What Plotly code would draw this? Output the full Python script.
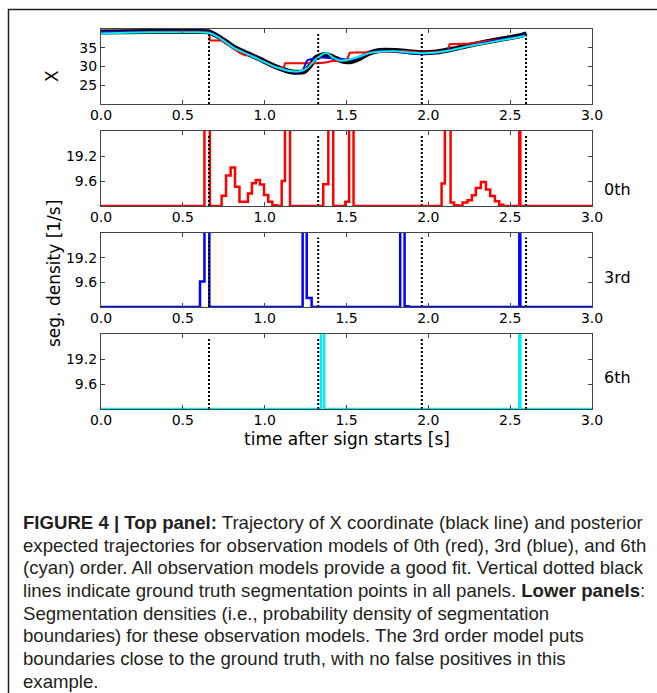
import plotly.graph_objects as go

W, H = 657, 693

# ---------------- data ----------------
truth_t = [0.66, 1.327, 1.96, 2.597]

black_t = [0.0, 0.3, 0.6, 0.66, 0.72, 0.77, 0.82, 0.9, 0.97, 1.07, 1.17, 1.24, 1.28, 1.31, 1.37, 1.42, 1.47,
           1.52, 1.58, 1.64, 1.70, 1.80, 1.88, 1.96, 2.05, 2.15, 2.25, 2.35, 2.45, 2.55, 2.6]
black_x = [39.3, 39.4, 39.4, 39.3, 38.0, 36.5, 35.0, 33.4, 32.0, 29.9, 28.5, 28.6, 30.3, 32.3, 33.3, 32.5, 31.5,
           31.3, 32.2, 33.6, 34.3, 34.3, 34.0, 33.7, 33.9, 34.7, 35.7, 36.6, 37.4, 38.2, 38.8]

red_t = [0.0, 0.3, 0.6, 0.662, 0.665, 0.74, 0.80, 0.85, 0.88, 0.92, 1.0, 1.05, 1.10, 1.115, 1.125, 1.33, 1.39,
         1.40, 1.50, 1.52, 1.55, 1.75, 1.85, 1.96, 2.05, 2.12, 2.13, 2.25, 2.35, 2.45, 2.55, 2.56, 2.6]
red_x = [39.3, 39.4, 39.4, 39.3, 37.0, 37.0, 35.2, 33.6, 33.0, 33.0, 31.2, 30.0, 29.6, 29.6, 30.9, 30.9, 31.2,
         31.4, 31.6, 33.7, 33.8, 33.9, 34.2, 33.7, 34.0, 34.2, 36.0, 36.2, 36.8, 37.3, 37.8, 38.1, 38.2]

blue_t = [0.0, 0.3, 0.6, 0.66, 0.72, 0.77, 0.82, 0.9, 0.97, 1.07, 1.17, 1.23, 1.26, 1.30, 1.35, 1.42, 1.47,
          1.52, 1.58, 1.64, 1.70, 1.80, 1.88, 1.96, 2.05, 2.15, 2.25, 2.35, 2.45, 2.55, 2.6]
blue_x = [39.2, 39.3, 39.3, 39.2, 38.0, 36.4, 34.9, 33.3, 31.9, 29.8, 28.6, 28.9, 31.6, 32.1, 32.4, 32.2, 32.0,
          31.9, 32.5, 33.6, 34.1, 34.1, 33.6, 33.4, 33.8, 34.6, 35.6, 36.5, 37.3, 38.0, 38.6]

cyan_t = [0.0, 0.3, 0.6, 0.66, 0.72, 0.77, 0.82, 0.9, 0.97, 1.07, 1.17, 1.22, 1.26, 1.31, 1.35, 1.38, 1.42,
          1.46, 1.52, 1.58, 1.64, 1.70, 1.80, 1.88, 1.96, 2.05, 2.15, 2.25, 2.35, 2.45, 2.55, 2.6]
cyan_x = [38.9, 39.2, 39.2, 39.0, 37.8, 36.3, 34.8, 33.2, 31.8, 29.8, 28.7, 28.8, 29.6, 31.8, 33.2, 33.6, 32.3,
          31.6, 31.9, 32.7, 33.6, 34.0, 34.1, 33.8, 33.6, 33.8, 34.5, 35.5, 36.3, 37.1, 37.9, 38.3]

# segmentation densities (step edges, value holds until next edge); 60 = beyond the axis top
red_dt = [0.0, 0.632, 0.665, 0.737, 0.764, 0.792, 0.819, 0.846, 0.873, 0.898, 0.922, 0.946, 0.971, 0.996, 1.022,
          1.047, 1.075, 1.104, 1.124, 1.155, 1.358, 1.389, 1.419, 1.493, 1.516, 1.543, 2.081, 2.101, 2.136, 2.157,
          2.183, 2.209, 2.239, 2.266, 2.290, 2.321, 2.352, 2.378, 2.407, 2.433, 2.458, 2.556, 2.562, 3.0]
red_dv = [0, 60, 0, 3.9, 11.7, 14.8, 7.4, 1.6, 1.6, 4.8, 8.7, 10.0, 8.3, 4.2, 1.6,
          0.3, 0, 9.6, 60, 0, 8.4, 60, 0, 1.6, 60, 0, 8.6, 60, 1.3, 0.3,
          0, 1.3, 2.2, 4.1, 6.9, 9.2, 6.3, 3.8, 1.8, 0.5, 0, 60, 0, 0]

blue_dt = [0.0, 0.605, 0.632, 0.662, 1.232, 1.257, 1.287, 1.828, 1.855, 1.878, 2.556, 2.562, 3.0]
blue_dv = [0, 9.9, 60, 0, 60, 3.5, 0, 60, 0.3, 0, 60, 0, 0]

cyan_dt = [0.0, 1.344, 1.364, 2.556, 2.562, 3.0]
cyan_dv = [0, 60, 0, 60, 0, 0]

order_labels = ["0th", "3rd", "6th"]
x_ticks = [0.0, 0.5, 1.0, 1.5, 2.0, 2.5, 3.0]
x_ticktext = ["0.0", "0.5", "1.0", "1.5", "2.0", "2.5", "3.0"]
top_ticks = [25, 30, 35]
dens_ticks = [9.6, 19.2]

caption_lines = [
    "<b>FIGURE 4 | Top panel:</b> Trajectory of X coordinate (black line) and posterior",
    "expected trajectories for observation models of 0th (red), 3rd (blue), and 6th",
    "(cyan) order. All observation models provide a good fit. Vertical dotted black",
    "lines indicate ground truth segmentation points in all panels. <b>Lower panels</b>:",
    "Segmentation densities (i.e., probability density of segmentation",
    "boundaries) for these observation models. The 3rd order model puts",
    "boundaries close to the ground truth, with no false positives in this",
    "example.",
]

# ---------------- layout helpers ----------------
def py(p):  # pixel y (from top) -> paper
    return 1 - p / H

def px(p):
    return p / W

panel_px = [(29, 104), (131, 206), (233, 307), (334, 409)]
xdom = [px(101), px(592)]
FONT = "DejaVu Sans"
AX = "#444444"
CYAN = "#00eeee"

fig = go.Figure()

# top panel trajectories
fig.add_trace(go.Scatter(x=black_t, y=black_x, mode="lines", line=dict(color="black", width=5, shape="spline", smoothing=0.6),
                         xaxis="x", yaxis="y", showlegend=False))
fig.add_trace(go.Scatter(x=red_t, y=red_x, mode="lines", line=dict(color="#ff0000", width=2),
                         xaxis="x", yaxis="y", showlegend=False))
fig.add_trace(go.Scatter(x=blue_t, y=blue_x, mode="lines", line=dict(color="#0000ff", width=2, shape="spline", smoothing=0.6),
                         xaxis="x", yaxis="y", showlegend=False))
fig.add_trace(go.Scatter(x=cyan_t, y=cyan_x, mode="lines", line=dict(color=CYAN, width=2, shape="spline", smoothing=0.6),
                         xaxis="x", yaxis="y", showlegend=False))

for i, (t, v, c) in enumerate([(red_dt, red_dv, "#ff0000"), (blue_dt, blue_dv, "#0000ff"), (cyan_dt, cyan_dv, CYAN)]):
    fig.add_trace(go.Scatter(x=t, y=v, mode="lines", line=dict(color=c, width=2.5, shape="hv"),
                             xaxis=f"x{i+2}", yaxis=f"y{i+2}", showlegend=False))

layout = dict(width=W, height=H, margin=dict(l=0, r=0, t=0, b=0, pad=0, autoexpand=False),
              template="none", paper_bgcolor="white", plot_bgcolor="white",
              font=dict(family=FONT, color="black", size=14))

def axis_common():
    return dict(ticks="inside", ticklen=4, tickcolor=AX, tickwidth=1, showline=True, linecolor=AX, linewidth=1.3,
                mirror="ticks", showgrid=False, zeroline=False, automargin=False,
                tickfont=dict(size=14, family=FONT, color="black"))

for i, (a, b) in enumerate(panel_px):
    sx = "" if i == 0 else str(i + 1)
    xa = axis_common()
    xa.update(domain=xdom, range=[0, 3], anchor=f"y{sx}", tickvals=x_ticks, ticktext=x_ticktext,
              ticklabelstandoff=-2)
    layout[f"xaxis{sx}"] = xa
    ya = axis_common()
    if i == 0:
        ya.update(domain=[py(b), py(a)], range=[19.9, 40.1], anchor="x", tickvals=top_ticks,
                  ticktext=[str(v) for v in top_ticks])
    else:
        ya.update(domain=[py(b), py(a)], range=[0, 28.8], anchor=f"x{sx}", tickvals=dens_ticks,
                  ticktext=[str(v) for v in dens_ticks])
    layout[f"yaxis{sx}"] = ya

fig.update_layout(**layout)

# ground-truth dotted lines
for i in range(4):
    sx = "" if i == 0 else str(i + 1)
    for t in truth_t:
        fig.add_shape(type="line", xref=f"x{sx}", yref=f"y{sx} domain", x0=t, x1=t, y0=0, y1=0.94,
                      line=dict(color="black", width=2, dash="2px,2px"), layer="above")

# texts
ann = []
ann.append(dict(text="X", x=px(40), y=py(68), xref="paper", yref="paper", showarrow=False,
                textangle=-90, font=dict(size=17, family=FONT)))
ann.append(dict(text="seg. density [1/s]", x=px(42), y=py(274), xref="paper", yref="paper", showarrow=False,
                textangle=-90, font=dict(size=17, family=FONT)))
ann.append(dict(text="time after sign starts [s]", x=px(347), y=py(439), xref="paper", yref="paper", showarrow=False,
                font=dict(size=17, family=FONT)))
for lab, yc in zip(order_labels, [178, 277, 377]):
    ann.append(dict(text=lab, x=px(602), y=py(yc), xref="paper", yref="paper", showarrow=False, xanchor="left",
                    font=dict(size=16, family=FONT)))

cap_y = [522, 545, 567, 590, 613, 635, 658, 681]
for line, yc in zip(caption_lines, cap_y):
    ann.append(dict(text=line, x=px(21), y=py(yc), xref="paper", yref="paper", showarrow=False, xanchor="left",
                    yanchor="middle", font=dict(size=18.6, family="Liberation Sans", color="#231f20")))
fig.update_layout(annotations=ann)

# outer frame
fig.add_shape(type="rect", xref="paper", yref="paper", x0=px(8.5), x1=1.05, y0=-0.05, y1=py(9.5),
              line=dict(color="#222222", width=1.5), layer="above")

fig.write_html("out.html")
